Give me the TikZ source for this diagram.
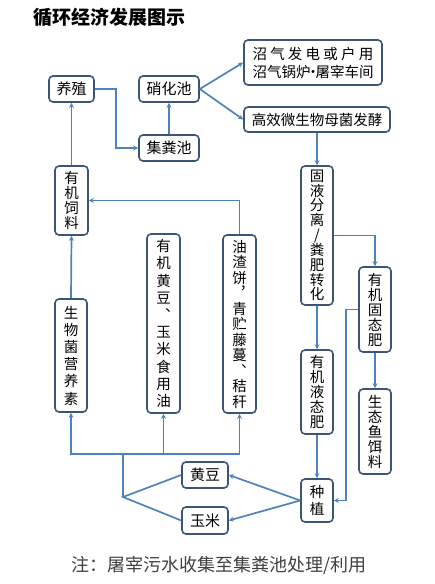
\documentclass[tikz,border=0pt]{standalone}
\usepackage{fontspec}
\setmainfont{Noto Sans CJK SC}
\usetikzlibrary{arrows.meta,calc}
\definecolor{cLine}{HTML}{4F81BD}
\definecolor{cBox}{HTML}{3A5577}
\tikzset{
  box/.style={draw=cBox,line width=1.6pt,rounded corners=4pt,fill=white,inner sep=0pt,align=center,font=\fontsize{15}{17}\selectfont},
  vbox/.style={box,font=\fontsize{14.5}{#1}\selectfont},
  vbox/.default=15,
  lnk/.style={cLine,line width=1.7pt},
  arr/.style={lnk,-{Stealth[length=5pt,width=5pt]}},
}

\begin{document}
\begin{tikzpicture}[x=1pt,y=-1pt]
  \useasboundingbox (0,0) rectangle (435,584);
  % title and note
  \node[anchor=west,font=\fontsize{19}{21}\selectfont\bfseries] (title) at (30,17) {循环经济发展图示};
  \node[font=\fontsize{18}{20}\selectfont,black!75] (note) at (219,565) {注：屠宰污水收集至集粪池处理/利用};
  % top row
  \node[box,minimum width=45pt,minimum height=26pt] (yz) at (71.5,89) {养殖};
  \node[box,minimum width=60pt,minimum height=26pt] (xhc) at (169,89) {硝化池};
  \node[box,minimum width=60pt,minimum height=26pt] (jfc) at (169,148) {集粪池};
  \node[box,minimum width=138pt,minimum height=45pt,font=\fontsize{14.5}{18}\selectfont] (zq) at (313,62.5)
    {\makebox[121pt]{沼\hfill 气\hfill 发\hfill 电\hfill 或\hfill 户\hfill 用}\\沼气锅炉\makebox[5pt]{·}屠宰车间};
  \node[box,minimum width=146pt,minimum height=25pt,font=\fontsize{14.5}{17}\selectfont] (gx) at (317,119.5) {高效微生物母菌发酵};
  % left columns
  \node[vbox,minimum width=33pt,minimum height=69pt] (slf) at (71.5,200.5) {有\\机\\饲\\料};
  \node[vbox=17.2,minimum width=32pt,minimum height=113pt] (swj) at (71,355.5) {生\\物\\菌\\营\\养\\素};
  \node[vbox=17.2,minimum width=33pt,minimum height=179pt] (hd) at (163.5,323.5) {有\\机\\黄\\豆\\︑\\玉\\米\\食\\用\\油};
  \node[vbox=15.5,minimum width=33pt,minimum height=178pt] (yzb) at (239.5,324) {油\\渣\\饼\\︐\\青\\贮\\藤\\蔓\\︑\\秸\\秆};
  % right columns
  \node[vbox=14.6,minimum width=32pt,minimum height=139pt] (gy) at (317,235.5) {固\\液\\分\\离\\/\\粪\\肥\\转\\化};
  \node[vbox,minimum width=32pt,minimum height=85pt] (gtf) at (375,309.5) {有\\机\\固\\态\\肥};
  \node[vbox,minimum width=32pt,minimum height=84pt] (ytf) at (317,392) {有\\机\\液\\态\\肥};
  \node[vbox,minimum width=32pt,minimum height=85pt] (syl) at (375,431.5) {生\\态\\鱼\\饵\\料};
  \node[vbox=17,minimum width=32pt,minimum height=43pt] (zz) at (317,500.5) {种\\植};
  % crops
  \node[box,minimum width=46pt,minimum height=26pt] (huang) at (205,475) {黄豆};
  \node[box,minimum width=46pt,minimum height=27pt] (ym) at (205,520.5) {玉米};
  % connectors, upper part
  \coordinate (k1) at (116,89);
  \draw[arr] (yz.east) -- (k1) |- (jfc.west);
  \draw[arr] (jfc.north) -- (xhc.south);
  \draw[arr] (xhc.east) -- (zq.west);
  \draw[arr] (xhc.east) -- (gx.west);
  \draw[arr] (gx.south) -- (gy.north);
  \draw[arr] (gy.east) -| (gtf.north);
  \draw[arr] (gy.south) -- (ytf.north);
  \draw[arr] (gtf.south) -- (syl.north);
  \draw[arr] (ytf.south) -- (zz.north);
  \coordinate (k2) at (346,309.5);
  \draw[arr] (gtf.west) -- (k2) |- (zz.east);
  % connectors, crops
  \draw[arr] (zz.west) -- (huang.east);
  \draw[arr] (zz.west) -- (ym.east);
  \coordinate (k3) at (123,497);
  \coordinate (k4) at (123,454);
  \draw[lnk] (huang.west) -- (k3) -- (ym.west);
  \draw[lnk] (k3) -- (k4);
  \draw[arr] (k4) -| (swj.south);
  \draw[arr] (k4) -| (hd.south);
  \draw[arr] (k4) -| (yzb.south);
  % connectors, feed
  \draw[arr] (swj.north) -- (slf.south);
  \draw[arr] (slf.north) -- (yz.south);
  \draw[arr] (yzb.north) |- (slf.east);
\end{tikzpicture}
\end{document}
